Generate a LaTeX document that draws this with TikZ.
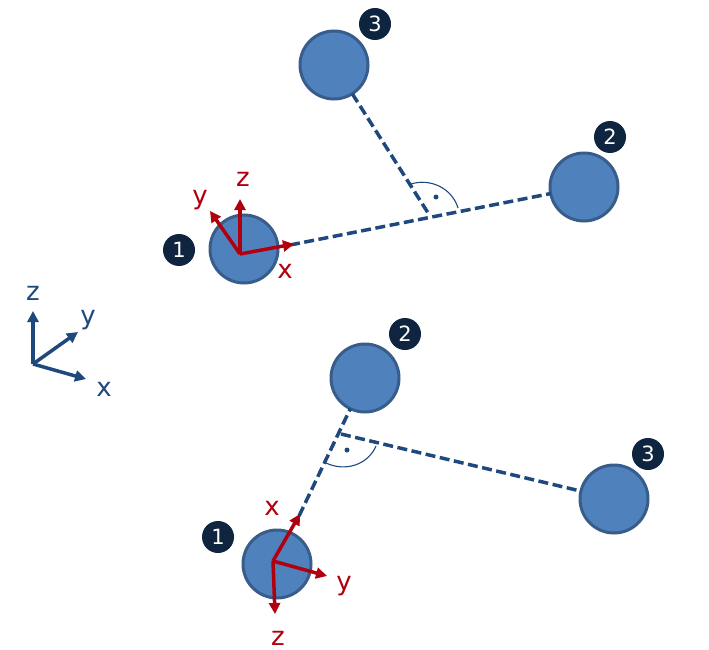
\documentclass[tikz,border=0pt]{standalone}
\usepackage{fontspec}
\setmainfont{DejaVu Sans}
\usetikzlibrary{arrows.meta}
\definecolor{ballfill}{HTML}{4F81BD}
\definecolor{ballline}{HTML}{385D8A}
\definecolor{dashblue}{HTML}{1F497D}
\definecolor{badgecol}{HTML}{0F243E}
\definecolor{axisred}{HTML}{B00010}
\tikzset{
  ball/.style={circle,draw=ballline,fill=ballfill,line width=3pt,minimum size=68pt,inner sep=0pt,outer sep=0pt},
  badge/.style={circle,fill=badgecol,text=white,minimum size=32pt,inner sep=0pt,font=\fontsize{21}{21}\selectfont},
  bond/.style={draw=dashblue,line width=3.5pt,dash pattern=on 10pt off 4.5pt},
  anglearc/.style={draw=dashblue,line width=1.1pt},
  angledot/.style={circle,fill=dashblue,minimum size=5pt,inner sep=0pt},
  redaxis/.style={draw=axisred,line width=3.5pt,-{Triangle[length=11pt,width=11pt]}},
  blueaxis/.style={draw=dashblue,line width=3.5pt,-{Triangle[length=11pt,width=11pt]}},
  redlabel/.style={text=axisred,inner sep=0pt,font=\fontsize{26}{26}\selectfont},
  bluelabel/.style={text=dashblue,inner sep=0pt,font=\fontsize{26}{26}\selectfont},
}
\begin{document}
\begin{tikzpicture}[x=1pt,y=-1pt]
\useasboundingbox (0,0) rectangle (709,650);
% top molecule
\node[ball] (tA) at (244,249) {};
\node[ball] (tB) at (584,187) {};
\node[ball] (tC) at (334,65) {};
\coordinate (tstart) at (290,245);
\coordinate (tfoot) at (430,216);
\path[bond] (tstart) -- (tB);
\path[bond] (tC) -- (tfoot);
\draw[anglearc] (411,184) .. controls (430,178) and (452,188) .. (458,208);
\node[angledot] (tdot) at (436,197) {};
\node[badge] (tb1) at (179,250) {1};
\node[badge] (tb2) at (610,137) {2};
\node[badge] (tb3) at (375,24) {3};
\coordinate (to) at (240,254);
\coordinate (tx) at (294,244);
\coordinate (ty) at (210,211);
\coordinate (tz) at (240,199);
\path[redaxis] (to) -- (tx);
\path[redaxis] (to) -- (ty);
\path[redaxis] (to) -- (tz);
\node[redlabel] (tlx) at (285,271) {x};
\node[redlabel] (tly) at (200,200) {y};
\node[redlabel] (tlz) at (243,179) {z};
% bottom molecule
\node[ball] (bA) at (277,564) {};
\node[ball] (bB) at (365,378) {};
\node[ball] (bC) at (614,499) {};
\coordinate (bstart) at (299,516);
\coordinate (bfoot) at (341,434);
\path[bond] (bstart) -- (bB);
\path[bond] (bfoot) -- (bC);
\draw[anglearc] (326,463) .. controls (345,472) and (368,465) .. (376,446);
\node[angledot] (bdot) at (347,450) {};
\node[badge] (bb1) at (218,537) {1};
\node[badge] (bb2) at (405,334) {2};
\node[badge] (bb3) at (648,454) {3};
\coordinate (bo) at (273,561);
\coordinate (bx) at (300,514);
\coordinate (by) at (327,576);
\coordinate (bz) at (275,614);
\path[redaxis] (bo) -- (bx);
\path[redaxis] (bo) -- (by);
\path[redaxis] (bo) -- (bz);
\node[redlabel] (blx) at (272,508) {x};
\node[redlabel] (bly) at (344,586) {y};
\node[redlabel] (blz) at (278,638) {z};
% global axes
\coordinate (go) at (33,364);
\coordinate (gx) at (86,379);
\coordinate (gy) at (78,332);
\coordinate (gz) at (33,311);
\path[blueaxis] (go) -- (gx);
\path[blueaxis] (go) -- (gy);
\path[blueaxis] (go) -- (gz);
\node[bluelabel] (glx) at (104,389) {x};
\node[bluelabel] (gly) at (88,320) {y};
\node[bluelabel] (glz) at (33,293) {z};
\end{tikzpicture}
\end{document}
